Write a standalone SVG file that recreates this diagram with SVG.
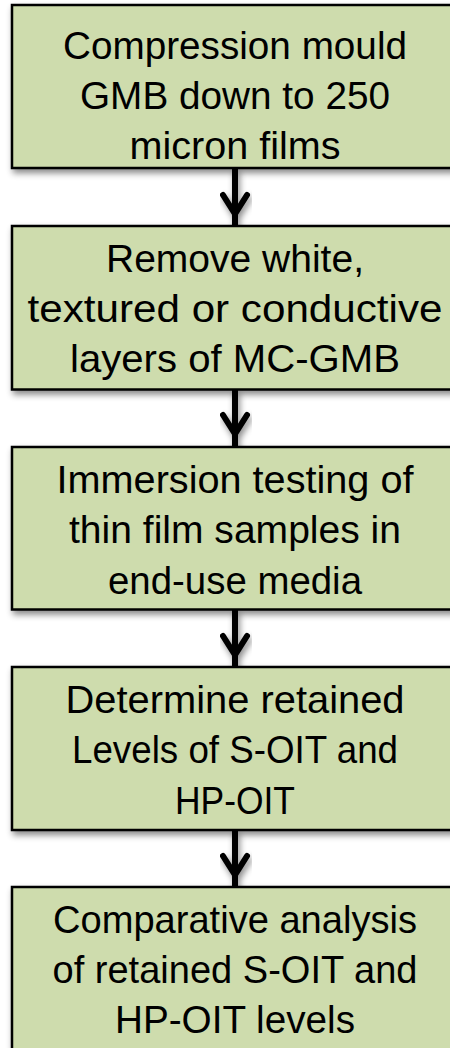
<svg xmlns="http://www.w3.org/2000/svg" width="450" height="1048" viewBox="0 0 450 1048">
  <defs>
    <filter id="sh" x="-10%" y="-10%" width="130%" height="130%">
      <feDropShadow dx="2" dy="4" stdDeviation="3" flood-color="#000" flood-opacity="0.45"/>
    </filter>
  </defs>
  <style>
    .box { fill: #CEDCAD; stroke: #000; stroke-width: 2.5; }
    .t { font-family: "Liberation Sans", Arial, sans-serif; font-size: 38.5px; fill: #000; text-anchor: middle; }
    .ln { stroke: #000; stroke-width: 6; fill: none; }
    .hd { stroke: #000; stroke-width: 6; fill: none; stroke-linecap: round; stroke-linejoin: miter; }
  </style>
  <rect width="450" height="1048" fill="#fff"/>
  <g id="connectors" filter="url(#sh)">
    <line class="ln" x1="235" y1="168" x2="235" y2="226"/>
    <polyline class="hd" points="223,195 235,214 247,195"/>
    <line class="ln" x1="235" y1="389.5" x2="235" y2="447"/>
    <polyline class="hd" points="223,415 235,434 247,415"/>
    <line class="ln" x1="235" y1="609.5" x2="235" y2="667"/>
    <polyline class="hd" points="223,636 235,655 247,636"/>
    <line class="ln" x1="235" y1="830" x2="235" y2="887"/>
    <polyline class="hd" points="223,856 235,875 247,856"/>
  </g>
  <g id="node1">
    <rect class="box" x="12" y="5" width="446" height="163" filter="url(#sh)"/>
    <text class="t" x="235" y="59" textLength="344" lengthAdjust="spacingAndGlyphs">Compression mould</text>
    <text class="t" x="235" y="109" textLength="310" lengthAdjust="spacingAndGlyphs">GMB down to 250</text>
    <text class="t" x="235" y="159" textLength="211" lengthAdjust="spacingAndGlyphs">micron films</text>
  </g>
  <g id="node2">
    <rect class="box" x="12" y="226" width="446" height="163.5" filter="url(#sh)"/>
    <text class="t" x="235" y="272" textLength="258" lengthAdjust="spacingAndGlyphs">Remove white,</text>
    <text class="t" x="235" y="322" textLength="415" lengthAdjust="spacingAndGlyphs">textured or conductive</text>
    <text class="t" x="235" y="372" textLength="330" lengthAdjust="spacingAndGlyphs">layers of MC-GMB</text>
  </g>
  <g id="node3">
    <rect class="box" x="12" y="447" width="446" height="162.5" filter="url(#sh)"/>
    <text class="t" x="235" y="493" textLength="357" lengthAdjust="spacingAndGlyphs">Immersion testing of</text>
    <text class="t" x="235" y="543" textLength="332" lengthAdjust="spacingAndGlyphs">thin film samples in</text>
    <text class="t" x="235" y="594" textLength="254" lengthAdjust="spacingAndGlyphs">end-use media</text>
  </g>
  <g id="node4">
    <rect class="box" x="12" y="667" width="446" height="163" filter="url(#sh)"/>
    <text class="t" x="235" y="713" textLength="339" lengthAdjust="spacingAndGlyphs">Determine retained</text>
    <text class="t" x="235" y="763" textLength="326" lengthAdjust="spacingAndGlyphs">Levels of S-OIT and</text>
    <text class="t" x="235" y="814" textLength="120" lengthAdjust="spacingAndGlyphs">HP-OIT</text>
  </g>
  <g id="node5">
    <rect class="box" x="12" y="887" width="446" height="170" filter="url(#sh)"/>
    <text class="t" x="235" y="933" textLength="364" lengthAdjust="spacingAndGlyphs">Comparative analysis</text>
    <text class="t" x="235" y="983" textLength="365" lengthAdjust="spacingAndGlyphs">of retained S-OIT and</text>
    <text class="t" x="235" y="1033" textLength="240" lengthAdjust="spacingAndGlyphs">HP-OIT levels</text>
  </g>
</svg>
